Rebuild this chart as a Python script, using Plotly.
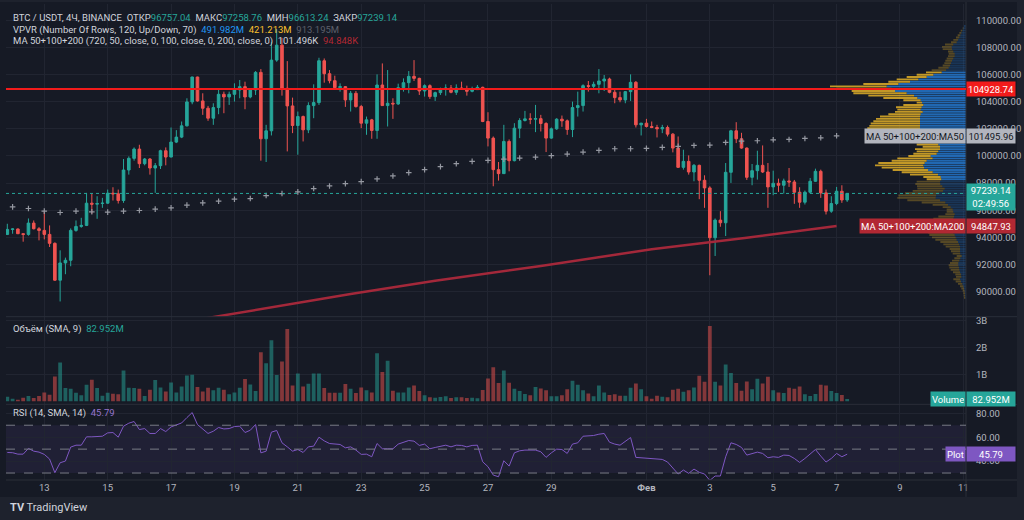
import numpy as np
import pandas as pd
import plotly.graph_objects as go

# BTC/USDT 4h candles (Binance)
open_ = [94221, 94588, 94620, 94270, 94221, 95053, 94637, 94515, 94221, 93561,
         90846, 92118, 92313, 94515, 94808, 94882, 96521, 96447, 96496, 96521,
         97254, 97210, 96716, 98966, 99823, 100507, 99431, 99774, 99113, 99285,
         100385, 99920, 101021, 101388, 102220, 103981, 105815, 104054, 103516, 102782,
         103565, 104543, 104348, 104543, 104861, 105106, 104348, 104861, 106158, 101266,
         101853, 107063, 108163, 104984, 103687, 102244, 102903, 101926, 103712, 103932,
         107014, 106060, 105546, 105033, 105106, 104128, 104617, 103638, 102415, 102660,
         101877, 105228, 103712, 103883, 103830, 105033, 105399, 105864, 105717, 104788,
         105179, 104372, 104666, 104910, 105008, 104690, 105008, 104935, 104763, 104886,
         105057, 102538, 101315, 98991, 98697, 101070, 99651, 102048, 102611, 102733,
         102709, 102750, 102391, 101315, 101999, 102709, 102587, 101950, 103565, 103712,
         105179, 105130, 105277, 105522, 105668, 104690, 104299, 104128, 104739, 105424,
         102293, 102415, 102171, 102097, 101999, 102097, 101608, 100581, 99162, 99602,
         98820, 99309, 98208, 97646, 93977, 95273, 95077, 98795, 101853, 101266,
         100581, 98428, 98917, 99309, 98820, 97719, 97988, 97841, 98159, 98086,
         97328, 96594, 97328, 98135, 98868, 97279, 95933, 96496, 97401, 96757.04]
high = [95004, 94661, 94660, 94300, 95395, 95248, 94759, 95982, 94882, 93634,
        93047, 92509, 94661, 95248, 95444, 97279, 97230, 97034, 96912, 97523,
        97694, 97523, 99774, 99969, 100630, 100825, 99847, 99847, 99480, 100458,
        100630, 102097, 101902, 102538, 104250, 105840, 105840, 104617, 103687, 103883,
        104861, 104739, 104739, 105351, 105595, 105473, 104984, 106256, 106402, 102293,
        108408, 109350, 108700, 106989, 104299, 103271, 102978, 103956, 105277, 107234,
        107185, 106329, 105913, 105351, 105150, 104788, 104788, 103761, 102903, 102733,
        106011, 106818, 106329, 104250, 105326, 105717, 106256, 107063, 105766, 105277,
        105277, 104739, 105033, 105277, 105228, 105277, 105473, 105179, 105106, 105228,
        105106, 103222, 101437, 99553, 102293, 101217, 102415, 102782, 103320, 103149,
        103761, 103027, 102489, 102097, 102782, 102978, 102684, 104005, 104739, 105277,
        105522, 105473, 106402, 105962, 105766, 104935, 104739, 104788, 106011, 105522,
        102440, 102733, 102538, 102293, 102293, 102244, 101682, 101437, 100458, 100043,
        99407, 99358, 98575, 97768, 95395, 95933, 99480, 101926, 102489, 101706,
        100630, 99407, 100385, 100776, 99480, 98917, 98330, 98330, 99113, 98233,
        97694, 97450, 98379, 99064, 98991, 97523, 97034, 97719, 97841, 97258.76]
low = [94172, 94270, 94250, 93683, 94124, 94588, 93781, 93854, 93292, 90800,
       89280, 91286, 91873, 94417, 94710, 94833, 95738, 95371, 96178, 96472,
       96716, 96496, 96545, 98624, 99651, 99113, 99309, 98624, 97279, 99040,
       99309, 99900, 100948, 101315, 102171, 103810, 104000, 103027, 102587, 102293,
       103076, 103149, 103761, 104005, 104250, 103443, 104250, 104494, 99651, 99553,
       101510, 106940, 104445, 100336, 101682, 100092, 101070, 101682, 102782, 103761,
       105399, 105351, 104984, 104739, 103614, 103271, 103565, 102048, 101559, 101266,
       101266, 103700, 102171, 102733, 103761, 104739, 104617, 105522, 104494, 104372,
       104201, 104054, 104494, 104445, 104617, 104494, 104861, 104445, 104690, 104860,
       102489, 100703, 97768, 98184, 98670, 98868, 99602, 101315, 102538, 102342,
       101755, 101804, 100287, 101266, 101926, 102146, 101559, 101388, 102903, 103271,
       104739, 104984, 104617, 104788, 104617, 103883, 103956, 103883, 104054, 102097,
       101510, 102097, 102048, 101364, 101682, 101437, 100263, 99113, 98991, 98624,
       98135, 96814, 96178, 91212, 92631, 94784, 94099, 98013, 100948, 100532,
       98233, 97841, 98257, 98746, 96178, 97108, 97352, 97230, 97719, 96472,
       96178, 96423, 97230, 98086, 96912, 95689, 95811, 96374, 96545, 96613.24]
close = [94588, 94620, 94270, 94221, 95053, 94637, 94515, 94221, 93561, 90846,
         92118, 92313, 94515, 94808, 94882, 96521, 96447, 96496, 96521, 97254,
         97210, 96716, 98966, 99823, 100507, 99431, 99774, 99113, 99285, 100385,
         99920, 101021, 101388, 102220, 103981, 105815, 104054, 103516, 102782, 103565,
         104543, 104348, 104543, 104861, 105106, 104348, 104861, 106158, 101266, 101853,
         107063, 108163, 104984, 103687, 102244, 102903, 101926, 103712, 103932, 107014,
         106060, 105546, 105033, 105106, 104128, 104617, 103638, 102415, 102660, 101877,
         105228, 103712, 103883, 103830, 105033, 105399, 105864, 105717, 104788, 105179,
         104372, 104666, 104910, 105008, 104690, 105008, 104935, 104763, 104886, 105057,
         102538, 101315, 98991, 98697, 101070, 99651, 102048, 102611, 102733, 102709,
         102750, 102391, 101315, 101999, 102709, 102587, 101950, 103565, 103712, 105179,
         105130, 105277, 105522, 105668, 104690, 104299, 104128, 104739, 105424, 102293,
         102415, 102171, 102097, 101999, 102097, 101608, 100581, 99162, 99602, 98820,
         99309, 98208, 97646, 93977, 95273, 95077, 98795, 101853, 101266, 100581,
         98428, 98917, 99309, 98820, 97719, 97988, 97841, 98159, 98086, 97328,
         96594, 97328, 98135, 98868, 97279, 95933, 96496, 97401, 96757, 97239.14]

# volume in millions
volume = [173, 99, 62, 136, 198, 124, 198, 333, 247, 926,
          1445, 494, 469, 321, 222, 618, 803, 494, 210, 321,
          284, 259, 1149, 506, 494, 469, 198, 432, 790, 519,
          370, 704, 333, 556, 963, 988, 531, 370, 506, 408,
          506, 432, 259, 333, 506, 827, 630, 383, 1828, 1420,
          2272, 976, 1482, 2692, 593, 1037, 556, 655, 1037, 1037,
          494, 321, 321, 321, 642, 469, 309, 519, 408, 333,
          1791, 1087, 1507, 395, 333, 333, 519, 593, 383, 222,
          148, 136, 161, 185, 124, 148, 148, 124, 136, 111,
          420, 852, 1272, 679, 1149, 692, 469, 383, 272, 222,
          531, 482, 408, 185, 185, 222, 445, 766, 618, 408,
          296, 185, 593, 333, 235, 259, 210, 210, 506, 667,
          445, 185, 99, 210, 173, 148, 432, 469, 358, 408,
          519, 951, 729, 2803, 729, 593, 1371, 1050, 679, 395,
          741, 445, 840, 667, 914, 408, 333, 309, 506, 469,
          556, 259, 198, 272, 618, 593, 383, 309, 235, 82.952]

rsi = [47.2, 47.0, 45.8, 45.8, 50.6, 48.3, 47.5, 45.6, 41.7, 30.3,
       38.6, 40.0, 51.7, 53.3, 53.3, 60.3, 60.3, 60.3, 60.8, 63.6,
       63.9, 60.0, 69.2, 71.7, 73.1, 66.4, 67.2, 63.1, 63.1, 67.2,
       64.7, 68.6, 70.0, 71.9, 76.4, 80.6, 70.6, 67.2, 63.1, 65.0,
       68.1, 66.9, 67.2, 68.9, 69.2, 63.9, 65.8, 70.6, 46.9, 48.3,
       64.2, 65.6, 55.3, 51.9, 48.3, 49.7, 47.2, 51.9, 52.5, 60.0,
       56.9, 54.7, 54.2, 53.9, 51.1, 51.9, 49.2, 45.6, 45.8, 43.6,
       54.7, 50.3, 50.3, 50.3, 54.2, 55.6, 57.2, 56.7, 53.1, 54.2,
       50.3, 51.4, 52.5, 53.3, 51.9, 53.3, 53.1, 51.9, 53.1, 53.3,
       39.4, 35.3, 28.3, 26.9, 40.3, 35.8, 46.9, 48.6, 49.2, 49.2,
       49.2, 47.8, 43.1, 46.9, 50.0, 49.7, 46.4, 54.2, 55.3, 60.8,
       60.8, 61.4, 62.5, 63.1, 55.8, 54.2, 53.3, 56.4, 59.7, 43.1,
       42.8, 42.2, 41.9, 41.4, 41.4, 39.2, 34.4, 29.2, 32.5, 29.7,
       33.3, 30.6, 29.2, 23.8, 27.5, 27.5, 43.6, 55.3, 53.9, 51.4,
       45.0, 46.4, 47.5, 46.4, 42.8, 43.6, 43.1, 45.0, 44.7, 42.2,
       38.9, 42.2, 45.8, 49.7, 44.2, 39.2, 42.2, 46.4, 43.6, 45.79]

# MA50 on the 12h timeframe: one value every 3rd candle, starting with the 2nd
ma50 = [96251, 96129, 95933, 95836, 95933, 95885, 95860, 95933, 95982, 96080,
        96178, 96374, 96545, 96667, 96814, 96863, 97083, 97230, 97352, 97597,
        97792, 97964, 98110, 98306, 98526, 98771, 98991, 99211, 99431, 99602,
        99676, 99760, 99847, 99920, 100018, 100140, 100287, 100410, 100532, 100532,
        100556, 100630, 100703, 100776, 100801, 100997, 101090, 101119, 101192, 101217,
        101290, 101339, 101486]
ma200_idx = [37, 47, 65, 81, 101, 122, 140, 157]
ma200 = [88000, 88649, 89823, 90799, 91900, 93125, 93977, 94848]

# volume profile, 118 rows top -> bottom (relative widths)
vp_up = [6, 8, 11, 14, 17, 20, 24, 28, 38, 43, 42, 38, 34, 34, 38, 42, 45, 48, 52, 60,
         73, 98, 118, 143, 168, 203, 238, 223, 213, 178, 156, 146, 136, 132, 128, 133, 136, 130, 136, 138,
         138, 138, 138, 138, 138, 136, 133, 128, 118, 108, 98, 83, 78, 78, 83, 88, 106, 100, 118, 124,
         128, 126, 114, 100, 84, 76, 74, 78, 77, 71, 64, 69, 80, 90, 91, 78, 62, 54, 46, 40,
         38, 34, 36, 38, 38, 38, 38, 38, 38, 38, 34, 31, 28, 24, 21, 18, 18, 18, 17, 13,
         17, 20, 23, 23, 21, 20, 18, 15, 14, 18, 15, 11, 8, 6, 4, 3, 3, 2]
vp_down = [0, 2, 5, 6, 8, 10, 14, 17, 25, 29, 28, 16, 18, 20, 20, 20, 20, 22, 31, 43,
           47, 50, 60, 65, 65, 105, 170, 165, 130, 160, 137, 102, 52, 16, 60, 77, 70, 83, 97, 120,
           132, 140, 148, 152, 158, 157, 140, 115, 90, 60, 50, 65, 52, 75, 65, 70, 67, 106, 105, 139,
           145, 127, 106, 93, 84, 52, 44, 70, 75, 76, 82, 91, 103, 113, 115, 98, 71, 46, 24, 18,
           20, 28, 47, 60, 65, 68, 70, 72, 74, 75, 76, 71, 64, 53, 47, 43, 31, 27, 23, 15,
           18, 22, 25, 29, 29, 26, 21, 17, 16, 20, 16, 13, 10, 8, 6, 5, 4, 4]
vp_high, vp_low = 109580, 89550
value_area = (20, 66)

level = 104928.74
ma50_last = 101495.96
ma200_last = 94847.93
timer = "02:49:56"

dates = pd.date_range("2025-01-11 20:00", periods=len(close), freq="4h")
vp_rows = np.linspace(vp_high, vp_low, len(vp_up))

W, H = 1024, 520
L, R, T, B = 6, 58, 2, 40
def fx(px):
    return (px - L) / (W - L - R)
def fy(py):
    return (H - B - py) / (H - T - B)

BG = "#161a25"
GRID = "#212531"
TXT = "#b2b5be"
GREEN = "#26a69a"
RED = "#ef5350"
FONT = "Roboto"

fig = go.Figure()

# volume profile (drawn from the price scale leftwards)
in_va = [value_area[0] <= i <= value_area[1] for i in range(len(vp_up))]
fig.add_trace(go.Bar(
    y=vp_rows, x=vp_up, orientation="h", xaxis="x4", yaxis="y", width=140,
    marker=dict(color=["rgba(36,124,214,0.8)" if v else "rgba(36,124,214,0.28)" for v in in_va],
                line_width=0),
    hoverinfo="skip"))
fig.add_trace(go.Bar(
    y=vp_rows, x=vp_down, base=vp_up, orientation="h", xaxis="x4", yaxis="y", width=140,
    marker=dict(color=["rgba(232,180,40,0.82)" if v else "rgba(232,180,40,0.3)" for v in in_va],
                line_width=0),
    hoverinfo="skip"))

fig.add_trace(go.Scatter(
    x=[dates[i] for i in ma200_idx], y=ma200, mode="lines",
    line=dict(color="#a3283a", width=2.5), xaxis="x", yaxis="y"))

fig.add_trace(go.Candlestick(
    x=dates, open=open_, high=high, low=low, close=close, xaxis="x", yaxis="y",
    increasing=dict(line=dict(color=GREEN, width=1), fillcolor=GREEN),
    decreasing=dict(line=dict(color=RED, width=1), fillcolor=RED)))

fig.add_trace(go.Scatter(
    x=dates[1::3], y=ma50, mode="markers", xaxis="x", yaxis="y",
    marker=dict(symbol="cross-thin", size=4, line=dict(color="#9598a1", width=1.2))))

vol_colors = ["rgba(38,166,154,0.5)" if c >= o else "rgba(239,83,80,0.5)"
              for o, c in zip(open_, close)]
fig.add_trace(go.Bar(
    x=dates, y=volume, xaxis="x", yaxis="y2", marker=dict(color=vol_colors, line_width=0),
    width=4 * 3600 * 1000 * 0.72))

fig.add_trace(go.Scatter(
    x=dates, y=rsi, mode="lines", line=dict(color="#7e57c2", width=1), xaxis="x", yaxis="y3"))

tick_dates = [pd.Timestamp(f"2025-01-{d:02d}") for d in range(13, 30, 2)] + \
             [pd.Timestamp(f"2025-02-{d:02d}") for d in (1, 3, 5, 7, 9, 11)]
tick_text = [str(d) for d in range(13, 30, 2)] + ["<b>Фев</b>", "3", "5", "7", "9", "11"]

axis_font = dict(family=FONT, size=9.5, color=TXT)
fig.update_layout(
    width=W, height=H, margin=dict(l=L, r=R, t=T, b=B),
    paper_bgcolor="#1e222d", plot_bgcolor="rgba(0,0,0,0)",
    showlegend=False, barmode="overlay", font=dict(family=FONT, size=10, color="#d1d4dc"),
    xaxis=dict(type="date", anchor="y3", domain=[0, 1],
               range=[dates[0] - pd.Timedelta(hours=1), dates[0] + pd.Timedelta(hours=726)],
               tickvals=tick_dates, ticktext=tick_text, tickfont=axis_font,
               showgrid=True, gridcolor=GRID, gridwidth=1, zeroline=False,
               showline=False, ticks="", rangeslider=dict(visible=False)),
    xaxis4=dict(overlaying="x", anchor="y", range=[(W - L - R) * 3, 0], visible=False),
    yaxis=dict(domain=[fy(316), 1], range=[88158, 111196], side="right", anchor="x",
               tickvals=list(range(90000, 110001, 2000)), tickformat=".2f",
               tickfont=axis_font, gridcolor=GRID, zeroline=False, ticks="",
               ticklabelstandoff=9),
    yaxis2=dict(domain=[fy(404), fy(316)], range=[-111, 3148], side="right", anchor="x",
                tickvals=[1000, 2000, 3000], ticktext=["1B", "2B", "3B"],
                tickfont=axis_font, gridcolor=GRID, zeroline=False, ticks="",
                ticklabelstandoff=9),
    yaxis3=dict(domain=[0, fy(404)], range=[24.17, 87.5], side="right", anchor="x",
                tickvals=[40, 60, 80], tickformat=".2f",
                tickfont=axis_font, gridcolor=GRID, zeroline=False, ticks="",
                ticklabelstandoff=9),
)

sep = "#2a2e39"
shapes = [
    dict(type="rect", xref="paper", yref="paper", x0=fx(0), x1=fx(1017), y0=fy(497), y1=fy(0),
         fillcolor=BG, line_width=0, layer="below"),
    dict(type="rect", xref="paper", yref="y3", x0=0, x1=1, y0=30, y1=70,
         fillcolor="rgba(126,87,194,0.1)", line_width=0, layer="below"),
]
for py in (316, 404, 480):
    shapes.append(dict(type="line", xref="paper", yref="paper", x0=fx(6), x1=fx(1017),
                       y0=fy(py), y1=fy(py), line=dict(color=sep, width=1)))
shapes.append(dict(type="line", xref="paper", yref="paper", x0=1, x1=1, y0=fy(497), y1=fy(0),
                   line=dict(color=sep, width=1)))
for lv in (70, 50, 30):
    shapes.append(dict(type="line", xref="paper", yref="y3", x0=0, x1=1, y0=lv, y1=lv,
                       line=dict(color="#787b86", width=1, dash="dash")))
shapes.append(dict(type="line", xref="paper", yref="y", x0=0, x1=1, y0=level, y1=level,
                   line=dict(color="#f21b1b", width=2)))
shapes.append(dict(type="line", xref="paper", yref="y", x0=0, x1=1, y0=close[-1], y1=close[-1],
                   line=dict(color=GREEN, width=1, dash="dot")))
fig.update_layout(shapes=shapes)


def tag(y, text, bg, fg="#ffffff", yref="y", right=False, width=None, height=12):
    a = dict(xref="paper", yref=yref, x=1, y=y, text=text, showarrow=False,
             xanchor="right" if right else "left", yanchor="middle",
             bgcolor=bg, font=dict(family=FONT, size=9.5, color=fg), borderpad=1,
             height=height)
    if width:
        a["width"] = width
    fig.add_annotation(**a)


tag(level, "104928.74", "#f21b1b", width=46)
tag(ma50_last, "MA 50+100+200:MA50", "#b2b5be", "#131722", right=True)
tag(ma50_last, "101495.96", "#b2b5be", "#131722", width=46)
tag(close[-1] - 280, f"{close[-1]:.2f}<br>{timer}", GREEN, width=46, height=24)
tag(ma200_last, "MA 50+100+200:MA200", "#b22833", right=True)
tag(ma200_last, "94847.93", "#b22833", width=46)
tag(volume[-1], "Volume", GREEN, yref="y2", right=True)
tag(volume[-1], f"{volume[-1]:.3f}M", GREEN, yref="y2", width=46)
tag(rsi[-1], "Plot", "#7e57c2", yref="y3", right=True)
tag(rsi[-1], f"{rsi[-1]:.2f}", "#7e57c2", yref="y3", width=46)


def span(t, c):
    return f"<span style='color:{c}'>{t}</span>"


g = GREEN if close[-1] >= open_[-1] else RED
legend_lines = [
    (16, "BTC / USDT, 4Ч, BINANCE&nbsp; ОТКР" + span(f"{open_[-1]:.2f}", g)
     + "&nbsp; МАКС" + span(f"{high[-1]:.2f}", g) + "&nbsp; МИН" + span(f"{low[-1]:.2f}", g)
     + "&nbsp; ЗАКР" + span(f"{close[-1]:.2f}", g)),
    (28, "VPVR (Number Of Rows, 120, Up/Down, 70)&nbsp; " + span("491.982M", "#2196f3")
     + "&nbsp; " + span("421.213M", "#fbc02d") + "&nbsp; " + span("913.195M", "#5d606b")),
    (39, "MA 50+100+200 (720, 50, close, 0, 100, close, 0, 200, close, 0)&nbsp; "
     + span("101.496K", "#d1d4dc") + "&nbsp; " + span("94.848K", "#b22833")),
    (328, "Объём (SMA, 9)&nbsp; " + span("82.952M", GREEN)),
    (413, "RSI (14, SMA, 14)&nbsp; " + span("45.79", "#9575cd")),
]
for py, text in legend_lines:
    fig.add_annotation(xref="paper", yref="paper", x=fx(11), y=fy(py), text=text,
                       showarrow=False, xanchor="left", yanchor="middle",
                       font=dict(family=FONT, size=9.5, color="#d1d4dc"))

fig.add_annotation(xref="paper", yref="paper", x=fx(8), y=fy(508), text="<b>TV</b> TradingView",
                   showarrow=False, xanchor="left", yanchor="middle",
                   font=dict(family=FONT, size=11, color="#d1d4dc"))

# the page's default body margin would push the 1024x520 figure off the window
fig.write_html("out.html", config={"displayModeBar": False},
               post_script="document.body.style.margin='0';document.body.style.background='#1e222d';")
